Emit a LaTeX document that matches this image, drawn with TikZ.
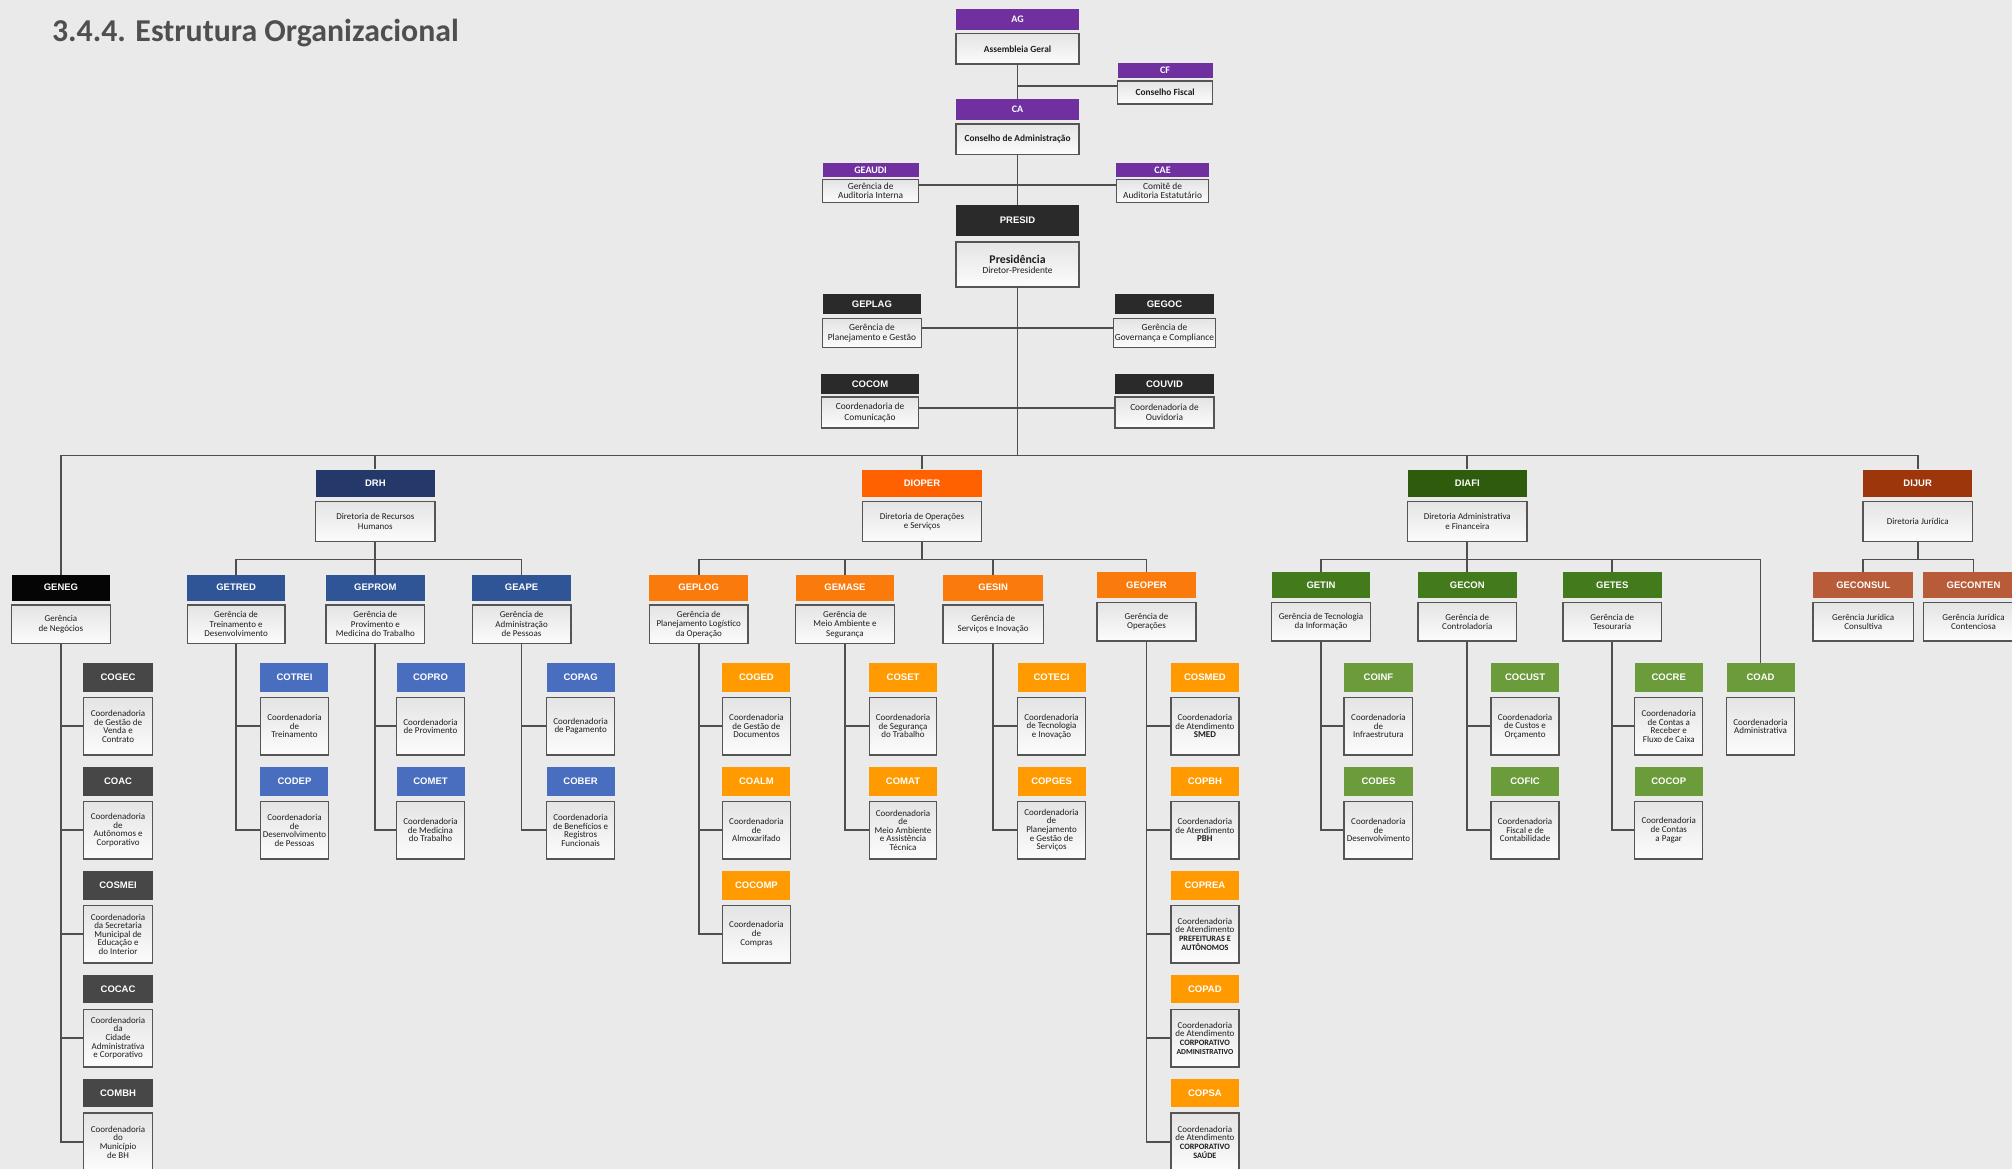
\documentclass[tikz,border=0pt]{standalone}
\usepackage{fontspec}
\setmainfont{Carlito}
\newfontfamily\hfont{Liberation Sans}
\definecolor{bg}{HTML}{EAEAEA}
\definecolor{purp}{HTML}{7030A0}
\definecolor{dk}{HTML}{2A2A2A}
\definecolor{blk}{HTML}{050505}
\definecolor{gry}{HTML}{474747}
\definecolor{cNavy}{HTML}{24396A}
\definecolor{cBl2}{HTML}{2F5597}
\definecolor{cBl3}{HTML}{4A6EBF}
\definecolor{cOr1}{HTML}{FF6000}
\definecolor{cOr2}{HTML}{FB7A0C}
\definecolor{cOr3}{HTML}{FF9A00}
\definecolor{cGr1}{HTML}{2E5B0C}
\definecolor{cGr2}{HTML}{437A1B}
\definecolor{cGr3}{HTML}{6C9B3B}
\definecolor{cBr1}{HTML}{9E360B}
\definecolor{cBr2}{HTML}{B85B38}
\definecolor{lnc}{HTML}{4F4F4F}
\definecolor{bord}{HTML}{555555}
\definecolor{txt}{HTML}{1E1E1E}
\definecolor{ttl}{HTML}{4F4F4F}
\definecolor{boxtop}{HTML}{E4E4E4}
\definecolor{boxbot}{HTML}{FCFCFC}
\newcommand\OUdims[3]{\def\ouhh{#1}\def\ougp{#2}\def\oubh{#3}}
\newcommand\OU[7]{%
  \pgfmathsetmacro\oucx{(#3+#4)/2}%
  \pgfmathsetmacro\ouw{#4-#3}%
  \pgfmathsetmacro\ouhc{#5+\ouhh/2}%
  \pgfmathsetmacro\oubc{#5+\ouhh+\ougp+\oubh/2}%
  \node[hdr,fill=#6,minimum width=\ouw pt,minimum height=\ouhh pt] (#1-h) at (\oucx,\ouhc) {#2};%
  \node[bx,minimum width=\ouw pt,minimum height=\oubh pt] (#1) at (\oucx,\oubc) {#7};%
}
\begin{document}
\begin{tikzpicture}[x=1pt,y=-1pt,
  hdr/.style={inner sep=0pt,text=white,font=\hfont\bfseries\fontsize{7.4}{8}\selectfont},
  bx/.style={draw=bord,line width=1.1pt,top color=boxtop,bottom color=boxbot,inner sep=1pt,align=center,text=txt,font=\fontsize{7}{7.4}\selectfont},
  ln/.style={draw=lnc,line width=1.3pt}]
\useasboundingbox (0,0) rectangle (1568,911);
\fill[bg] (0,0) rectangle (1568,911);
\node[anchor=base west,text=ttl,font=\bfseries\fontsize{24.8}{26}\selectfont] (title) at (37,32) {3.4.4. Estrutura Organizacional};

% ---------- top chain ----------
\begin{scope}[hdr/.append style={font=\bfseries\fontsize{7.8}{8}\selectfont},
              bx/.append style={font=\fontsize{7.3}{7}\selectfont}]
\OUdims{16}{3}{24}
\OU{AG}{AG}{745}{841}{7}{purp}{\textbf{Assembleia Geral}}
\OU{CA}{CA}{745}{841}{77.5}{purp}{\textbf{Conselho de Administração}}
\OUdims{12}{2}{18}
\OU{CF}{CF}{871}{945}{49}{purp}{\textbf{Conselho Fiscal}}
\OUdims{11}{2}{18}
\OU{GEAUDI}{GEAUDI}{641}{716}{127}{purp}{Gerência de\\Auditoria Interna}
\OU{CAE}{CAE}{870}{942}{127}{purp}{Comitê de\\Auditoria Estatutário}
\end{scope}
\begin{scope}[bx/.append style={font=\fontsize{7.3}{8}\selectfont}]
\OUdims{24}{4.5}{35}
\OU{PRESID}{PRESID}{745}{841}{160}{dk}{{\fontsize{9.2}{9}\selectfont\bfseries Presidência}\\Diretor-Presidente}
\OUdims{16}{3}{23}
\OU{GEPLAG}{GEPLAG}{641}{718}{229}{dk}{Gerência de\\Planejamento e Gestão}
\OU{GEGOC}{GEGOC}{869}{946}{229}{dk}{Gerência de\\Governança e Compliance}
\OUdims{15.5}{2.5}{24}
\OU{COCOM}{COCOM}{640}{716}{291.5}{dk}{Coordenadoria de\\Comunicação}
\OU{COUVID}{COUVID}{869}{946}{291.5}{dk}{Coordenadoria de\\Ouvidoria}
\end{scope}

% ---------- directors ----------
\OUdims{21}{4}{31}
\OU{DRH}{DRH}{246}{339}{366}{cNavy}{Diretoria de Recursos\\Humanos}
\OU{DIOPER}{DIOPER}{672}{765}{366}{cOr1}{Diretoria de Operações\\e Serviços}
\OU{DIAFI}{DIAFI}{1097}{1190}{366}{cGr1}{Diretoria Administrativa\\e Financeira}
\OU{DIJUR}{DIJUR}{1452}{1537}{366}{cBr1}{Diretoria Jurídica}

% ---------- managers ----------
\OUdims{20}{3.5}{30}
\OU{GENEG}{GENEG}{9}{86}{448}{blk}{Gerência\\de Negócios}
\OU{GETRED}{GETRED}{146}{222}{448}{cBl2}{Gerência de\\Treinamento e\\Desenvolvimento}
\OU{GEPROM}{GEPROM}{254}{331}{448}{cBl2}{Gerência de\\Provimento e\\Medicina do Trabalho}
\OU{GEAPE}{GEAPE}{368}{445}{448}{cBl2}{Gerência de\\Administração\\de Pessoas}
\OU{GEPLOG}{GEPLOG}{506}{583}{448}{cOr2}{Gerência de\\Planejamento Logístico\\da Operação}
\OU{GEMASE}{GEMASE}{620}{697}{448}{cOr2}{Gerência de\\Meio Ambiente e\\Segurança}
\OU{GESIN}{GESIN}{735}{813}{448}{cOr2}{Gerência de\\Serviços e Inovação}
\OU{GEOPER}{GEOPER}{855}{932}{446}{cOr2}{Gerência de\\Operações}
\OU{GETIN}{GETIN}{991}{1068}{446}{cGr2}{Gerência de Tecnologia\\da Informação}
\OU{GECON}{GECON}{1105}{1182}{446}{cGr2}{Gerência de\\Controladoria}
\OU{GETES}{GETES}{1218}{1295}{446}{cGr2}{Gerência de\\Tesouraria}
\OU{GECONSUL}{GECONSUL}{1413}{1491}{446}{cBr2}{Gerência Jurídica\\Consultiva}
\OU{GECONTEN}{GECONTEN}{1499}{1577}{446}{cBr2}{Gerência Jurídica\\Contenciosa}

% ---------- coordinators ----------
\begin{scope}[bx/.append style={font=\fontsize{7}{6.7}\selectfont}]
\OUdims{22.5}{4.5}{45}
\OU{COGEC}{COGEC}{65}{119}{516.5}{gry}{Coordenadoria\\de Gestão de\\Venda e\\Contrato}
\OU{COAC}{COAC}{65}{119}{597.5}{gry}{Coordenadoria\\de\\Autônomos e\\Corporativo}
\OU{COSMEI}{COSMEI}{65}{119}{678.5}{gry}{Coordenadoria\\da Secretaria\\Municipal de\\Educação e\\do Interior}
\OU{COCAC}{COCAC}{65}{119}{759.5}{gry}{Coordenadoria\\da\\Cidade\\Administrativa\\e Corporativo}
\OU{COMBH}{COMBH}{65}{119}{840.5}{gry}{Coordenadoria\\do\\Município\\de BH}
\OU{COTREI}{COTREI}{203}{256}{516.5}{cBl3}{Coordenadoria\\de\\Treinamento}
\OU{CODEP}{CODEP}{203}{256}{597.5}{cBl3}{Coordenadoria\\de\\Desenvolvimento\\de Pessoas}
\OU{COPRO}{COPRO}{309}{362}{516.5}{cBl3}{Coordenadoria\\de Provimento}
\OU{COMET}{COMET}{309}{362}{597.5}{cBl3}{Coordenadoria\\de Medicina\\do Trabalho}
\OU{COPAG}{COPAG}{426}{479}{516.5}{cBl3}{Coordenadoria\\de Pagamento}
\OU{COBER}{COBER}{426}{479}{597.5}{cBl3}{Coordenadoria\\de Benefícios e\\Registros\\Funcionais}
\OU{COGED}{COGED}{563}{616}{516.5}{cOr3}{Coordenadoria\\de Gestão de\\Documentos}
\OU{COALM}{COALM}{563}{616}{597.5}{cOr3}{Coordenadoria\\de\\Almoxarifado}
\OU{COCOMP}{COCOMP}{563}{616}{678.5}{cOr3}{Coordenadoria\\de\\Compras}
\OU{COSET}{COSET}{677.5}{730}{516.5}{cOr3}{Coordenadoria\\de Segurança\\do Trabalho}
\OU{COMAT}{COMAT}{677.5}{730}{597.5}{cOr3}{Coordenadoria\\de\\Meio Ambiente\\e Assistência\\Técnica}
\OU{COTECI}{COTECI}{793}{846}{516.5}{cOr3}{Coordenadoria\\de Tecnologia\\e Inovação}
\OU{COPGES}{COPGES}{793}{846}{597.5}{cOr3}{Coordenadoria\\de\\Planejamento\\e Gestão de\\Serviços}
\OU{COSMED}{COSMED}{912.5}{965.5}{516.5}{cOr3}{Coordenadoria\\de Atendimento\\\textbf{SMED}}
\OU{COPBH}{COPBH}{912.5}{965.5}{597.5}{cOr3}{Coordenadoria\\de Atendimento\\\textbf{PBH}}
\OU{COPREA}{COPREA}{912.5}{965.5}{678.5}{cOr3}{Coordenadoria\\de Atendimento\\{\fontsize{6.4}{6.7}\selectfont\bfseries PREFEITURAS E}\\{\fontsize{6.4}{6.7}\selectfont\bfseries AUTÔNOMOS}}
\OU{COPAD}{COPAD}{912.5}{965.5}{759.5}{cOr3}{Coordenadoria\\de Atendimento\\{\fontsize{6.4}{6.7}\selectfont\bfseries CORPORATIVO}\\{\fontsize{6}{6.7}\selectfont\bfseries ADMINISTRATIVO}}
\OU{COPSA}{COPSA}{912.5}{965.5}{840.5}{cOr3}{Coordenadoria\\de Atendimento\\{\fontsize{6.4}{6.7}\selectfont\bfseries CORPORATIVO}\\{\fontsize{6.4}{6.7}\selectfont\bfseries SAÚDE}}
\OU{COINF}{COINF}{1047.5}{1101}{516.5}{cGr3}{Coordenadoria\\de\\Infraestrutura}
\OU{CODES}{CODES}{1047.5}{1101}{597.5}{cGr3}{Coordenadoria\\de\\Desenvolvimento}
\OU{COCUST}{COCUST}{1162}{1215}{516.5}{cGr3}{Coordenadoria\\de Custos e\\Orçamento}
\OU{COFIC}{COFIC}{1162}{1215}{597.5}{cGr3}{Coordenadoria\\Fiscal e de\\Contabilidade}
\OU{COCRE}{COCRE}{1274}{1327}{516.5}{cGr3}{Coordenadoria\\de Contas a\\Receber e\\Fluxo de Caixa}
\OU{COCOP}{COCOP}{1274}{1327}{597.5}{cGr3}{Coordenadoria\\de Contas\\a Pagar}
\OU{COAD}{COAD}{1345.5}{1398.5}{516.5}{cGr3}{Coordenadoria\\Administrativa}
\end{scope}

% ---------- connectors ----------
\coordinate (bus) at (0,355);
\coordinate (b2) at (0,436);
\draw[ln] (AG.south) -- (CA-h.north);
\draw[ln] ([yshift=5pt]CF.west) -- ([yshift=5pt]CF.west -| AG.south);
\draw[ln] (CA.south) -- (PRESID-h.north);
\draw[ln] ([yshift=5pt]GEAUDI.east) -- ([yshift=5pt]CAE.west);
\draw[ln] ([yshift=4pt]GEPLAG.east) -- ([yshift=4pt]GEGOC.west);
\draw[ln] ([yshift=3.5pt]COCOM.east) -- ([yshift=3.5pt]COUVID.west);
\draw[ln] (PRESID.south) -- (PRESID.south |- bus);
\draw[ln] (GENEG-h.north) |- (DIJUR-h.north |- bus) -- (DIJUR-h.north);
\draw[ln] (DRH-h.north) -- (DRH-h.north |- bus);
\draw[ln] (DIOPER-h.north) -- (DIOPER-h.north |- bus);
\draw[ln] (DIAFI-h.north) -- (DIAFI-h.north |- bus);
% DRH
\draw[ln] (DRH.south) -- (DRH.south |- b2);
\draw[ln] (GETRED-h.north) |- (GEAPE-h.north |- b2) -- (GEAPE-h.north);
\draw[ln] (GEPROM-h.north) -- (GEPROM-h.north |- b2);
% DIOPER
\draw[ln] (DIOPER.south) -- (DIOPER.south |- b2);
\draw[ln] (GEPLOG-h.north) |- (GEOPER-h.north |- b2) -- (GEOPER-h.north);
\draw[ln] (GEMASE-h.north) -- (GEMASE-h.north |- b2);
\draw[ln] (GESIN-h.north) -- (GESIN-h.north |- b2);
% DIAFI
\draw[ln] (DIAFI.south) -- (DIAFI.south |- b2);
\draw[ln] (GETIN-h.north) |- (COAD-h.north |- b2) -- (COAD-h.north);
\draw[ln] (GECON-h.north) -- (GECON-h.north |- b2);
\draw[ln] (GETES-h.north) -- (GETES-h.north |- b2);
% DIJUR
\draw[ln] (DIJUR.south) -- (DIJUR.south |- b2);
\draw[ln] (GECONSUL-h.north) |- (GECONTEN-h.north |- b2) -- (GECONTEN-h.north);
% coordinators
\draw[ln] (GENEG.south) |- (COMBH.west);
\foreach \c in {COGEC,COAC,COSMEI,COCAC} \draw[ln] (\c.west) -- (\c.west -| GENEG.south);
\draw[ln] (GETRED.south) |- (CODEP.west);
\draw[ln] (COTREI.west) -- (COTREI.west -| GETRED.south);
\draw[ln] (GEPROM.south) |- (COMET.west);
\draw[ln] (COPRO.west) -- (COPRO.west -| GEPROM.south);
\draw[ln] (GEAPE.south) |- (COBER.west);
\draw[ln] (COPAG.west) -- (COPAG.west -| GEAPE.south);
\draw[ln] (GEPLOG.south) |- (COCOMP.west);
\foreach \c in {COGED,COALM} \draw[ln] (\c.west) -- (\c.west -| GEPLOG.south);
\draw[ln] (GEMASE.south) |- (COMAT.west);
\draw[ln] (COSET.west) -- (COSET.west -| GEMASE.south);
\draw[ln] (GESIN.south) |- (COPGES.west);
\draw[ln] (COTECI.west) -- (COTECI.west -| GESIN.south);
\draw[ln] (GEOPER.south) |- (COPSA.west);
\foreach \c in {COSMED,COPBH,COPREA,COPAD} \draw[ln] (\c.west) -- (\c.west -| GEOPER.south);
\draw[ln] (GETIN.south) |- (CODES.west);
\draw[ln] (COINF.west) -- (COINF.west -| GETIN.south);
\draw[ln] (GECON.south) |- (COFIC.west);
\draw[ln] (COCUST.west) -- (COCUST.west -| GECON.south);
\draw[ln] (GETES.south) |- (COCOP.west);
\draw[ln] (COCRE.west) -- (COCRE.west -| GETES.south);
\end{tikzpicture}
\end{document}
